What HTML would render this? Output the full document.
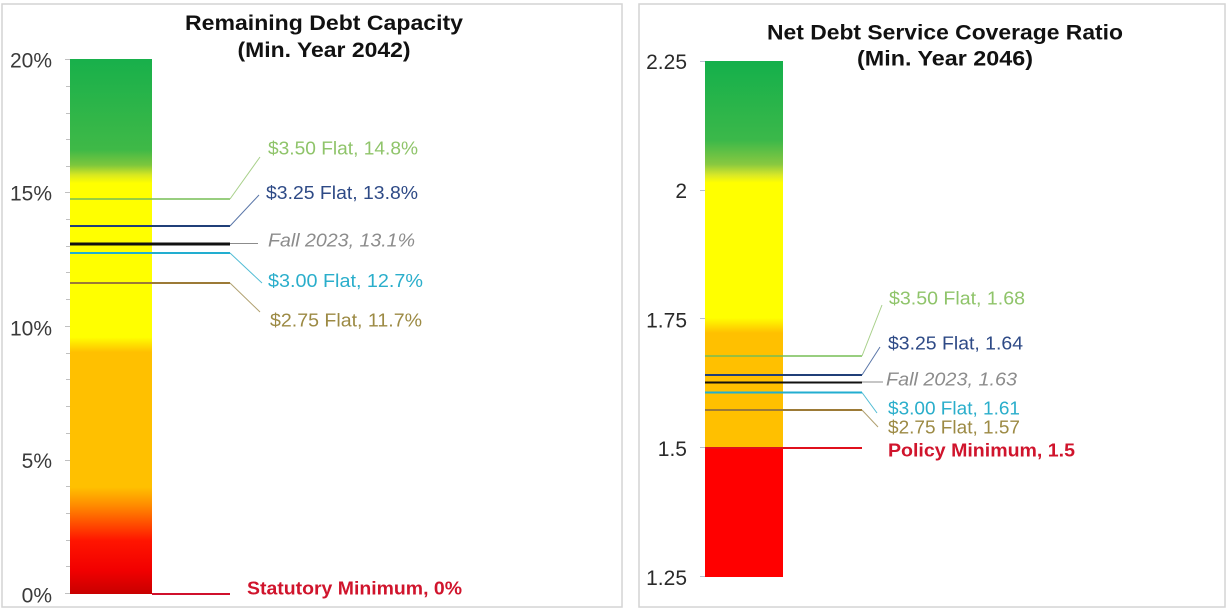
<!DOCTYPE html>
<html>
<head>
<meta charset="utf-8">
<style>
  html, body { margin:0; padding:0; background:#ffffff; }
  body { width:1228px; height:613px; overflow:hidden; }
  svg { display:block; font-family:"Liberation Sans", Arial, sans-serif; }
</style>
</head>
<body>
<svg width="1228" height="613" viewBox="0 0 1228 613" xmlns="http://www.w3.org/2000/svg">
  <defs>
    <linearGradient id="gL" x1="0" y1="0" x2="0" y2="1">
      <stop offset="0" stop-color="#18b04b"/>
      <stop offset="0.17" stop-color="#3fb947"/>
      <stop offset="0.198" stop-color="#7cc63d"/>
      <stop offset="0.217" stop-color="#d8e820"/>
      <stop offset="0.232" stop-color="#ffff00"/>
      <stop offset="0.52" stop-color="#ffff00"/>
      <stop offset="0.548" stop-color="#ffc000"/>
      <stop offset="0.80" stop-color="#ffc000"/>
      <stop offset="0.834" stop-color="#ff8c00"/>
      <stop offset="0.90" stop-color="#ff1500"/>
      <stop offset="0.955" stop-color="#f20000"/>
      <stop offset="1" stop-color="#c80000"/>
    </linearGradient>
    <linearGradient id="gR" x1="0" y1="0" x2="0" y2="1">
      <stop offset="0" stop-color="#14b04b"/>
      <stop offset="0.153" stop-color="#3bb84a"/>
      <stop offset="0.2" stop-color="#88c840"/>
      <stop offset="0.221" stop-color="#d8e828"/>
      <stop offset="0.236" stop-color="#ffff00"/>
      <stop offset="0.498" stop-color="#ffff00"/>
      <stop offset="0.527" stop-color="#ffc000"/>
      <stop offset="0.749" stop-color="#ffc000"/>
      <stop offset="0.7495" stop-color="#ff0000"/>
      <stop offset="1" stop-color="#ff0000"/>
    </linearGradient>
  </defs>

  <!-- panel frames -->
  <rect x="2" y="4" width="620" height="603" fill="#ffffff" stroke="#d4d4d4" stroke-width="1.5"/>
  <rect x="639" y="4" width="586" height="603" fill="#ffffff" stroke="#d4d4d4" stroke-width="1.5"/>

  <!-- ========== LEFT CHART ========== -->
  <text x="324" y="30" text-anchor="middle" font-size="21" font-weight="bold" fill="#111" textLength="278" lengthAdjust="spacingAndGlyphs">Remaining Debt Capacity</text>
  <text x="324" y="57" text-anchor="middle" font-size="21" font-weight="bold" fill="#111" textLength="173" lengthAdjust="spacingAndGlyphs">(Min. Year 2042)</text>

  <!-- ticks -->
  <g stroke="#c0c0c0" stroke-width="1">
    <line x1="65" y1="59.5" x2="70" y2="59.5"/>
    <line x1="66" y1="86.5" x2="70" y2="86.5"/>
    <line x1="66" y1="113.5" x2="70" y2="113.5"/>
    <line x1="66" y1="139.5" x2="70" y2="139.5"/>
    <line x1="66" y1="166.5" x2="70" y2="166.5"/>
    <line x1="65" y1="192.5" x2="70" y2="192.5"/>
    <line x1="66" y1="219.5" x2="70" y2="219.5"/>
    <line x1="66" y1="246.5" x2="70" y2="246.5"/>
    <line x1="66" y1="272.5" x2="70" y2="272.5"/>
    <line x1="66" y1="299.5" x2="70" y2="299.5"/>
    <line x1="65" y1="326.5" x2="70" y2="326.5"/>
    <line x1="66" y1="353.5" x2="70" y2="353.5"/>
    <line x1="66" y1="379.5" x2="70" y2="379.5"/>
    <line x1="66" y1="406.5" x2="70" y2="406.5"/>
    <line x1="66" y1="433.5" x2="70" y2="433.5"/>
    <line x1="65" y1="460.5" x2="70" y2="460.5"/>
    <line x1="66" y1="486.5" x2="70" y2="486.5"/>
    <line x1="66" y1="513.5" x2="70" y2="513.5"/>
    <line x1="66" y1="540.5" x2="70" y2="540.5"/>
    <line x1="66" y1="566.5" x2="70" y2="566.5"/>
    <line x1="65" y1="593.5" x2="70" y2="593.5"/>
  </g>
  <g font-size="21" fill="#3a3a3a" text-anchor="end">
    <text x="52" y="67.5">20%</text>
    <text x="52" y="200.5">15%</text>
    <text x="52" y="335.5">10%</text>
    <text x="52" y="468">5%</text>
    <text x="52" y="602.5">0%</text>
  </g>

  <!-- bar -->
  <rect x="70" y="59" width="82" height="535" fill="url(#gL)"/>

  <!-- lines -->
  <line x1="70" y1="199" x2="230" y2="199" stroke="#76bd55" stroke-width="1.5"/>
  <line x1="230" y1="199" x2="260" y2="157" stroke="#a8d08a" stroke-width="1"/>

  <line x1="70" y1="226" x2="230" y2="226" stroke="#203f78" stroke-width="2"/>
  <line x1="230" y1="226" x2="259" y2="195" stroke="#5a76a8" stroke-width="1"/>

  <line x1="70" y1="244" x2="230" y2="244" stroke="#111111" stroke-width="3"/>
  <line x1="230" y1="243.5" x2="258" y2="243.5" stroke="#8c8c8c" stroke-width="1"/>

  <line x1="70" y1="253" x2="230" y2="253" stroke="#22aed0" stroke-width="2"/>
  <line x1="230" y1="253" x2="262" y2="283" stroke="#50bcd4" stroke-width="1"/>

  <line x1="70" y1="283" x2="230" y2="283" stroke="#9c7a36" stroke-width="2"/>
  <line x1="230" y1="283" x2="260" y2="312" stroke="#b0a070" stroke-width="1"/>

  <line x1="152" y1="594" x2="230" y2="594" stroke="#d0102c" stroke-width="2"/>

  <!-- labels -->
  <g font-size="18">
    <text x="268" y="154.5" fill="#8fc46a" textLength="150" lengthAdjust="spacingAndGlyphs">$3.50 Flat, 14.8%</text>
    <text x="266" y="199" fill="#2e4a86" textLength="152" lengthAdjust="spacingAndGlyphs">$3.25 Flat, 13.8%</text>
    <text x="268" y="246.5" fill="#8c8c8c" font-style="italic" textLength="147" lengthAdjust="spacingAndGlyphs">Fall 2023, 13.1%</text>
    <text x="268" y="287" fill="#2aaecb" textLength="155" lengthAdjust="spacingAndGlyphs">$3.00 Flat, 12.7%</text>
    <text x="270" y="326.5" fill="#9c8a44" textLength="152" lengthAdjust="spacingAndGlyphs">$2.75 Flat, 11.7%</text>
    <text x="247" y="594.5" fill="#d0142c" font-weight="bold" textLength="215" lengthAdjust="spacingAndGlyphs">Statutory Minimum, 0%</text>
  </g>

  <!-- ========== RIGHT CHART ========== -->
  <text x="945" y="39.5" text-anchor="middle" font-size="21" font-weight="bold" fill="#111" textLength="356" lengthAdjust="spacingAndGlyphs">Net Debt Service Coverage Ratio</text>
  <text x="945" y="65.5" text-anchor="middle" font-size="21" font-weight="bold" fill="#111" textLength="176" lengthAdjust="spacingAndGlyphs">(Min. Year 2046)</text>

  <g stroke="#b8c0d0" stroke-width="1">
    <line x1="700" y1="61.5" x2="705" y2="61.5"/>
    <line x1="700" y1="190.5" x2="705" y2="190.5"/>
    <line x1="700" y1="318.5" x2="705" y2="318.5"/>
    <line x1="700" y1="447.5" x2="705" y2="447.5"/>
    <line x1="700" y1="576.5" x2="705" y2="576.5"/>
  </g>
  <g font-size="21" fill="#2a2a2a" text-anchor="end">
    <text x="687" y="69">2.25</text>
    <text x="687" y="198">2</text>
    <text x="687" y="327.5">1.75</text>
    <text x="687" y="456">1.5</text>
    <text x="687" y="585">1.25</text>
  </g>

  <rect x="705" y="61" width="78" height="516" fill="url(#gR)"/>

  <line x1="705" y1="356" x2="862" y2="356" stroke="#76bd55" stroke-width="1.5"/>
  <line x1="862" y1="356" x2="882" y2="305" stroke="#a8d08a" stroke-width="1"/>

  <line x1="705" y1="375" x2="862" y2="375" stroke="#203f78" stroke-width="2"/>
  <line x1="862" y1="375" x2="880" y2="347" stroke="#5a76a8" stroke-width="1"/>

  <line x1="705" y1="382.5" x2="862" y2="382.5" stroke="#111111" stroke-width="2"/>
  <line x1="862" y1="382" x2="883" y2="382" stroke="#8c8c8c" stroke-width="1"/>

  <line x1="705" y1="392.5" x2="862" y2="392.5" stroke="#22aed0" stroke-width="2"/>
  <line x1="862" y1="392.5" x2="877" y2="413" stroke="#50bcd4" stroke-width="1"/>

  <line x1="705" y1="410" x2="862" y2="410" stroke="#9c7a36" stroke-width="2"/>
  <line x1="862" y1="410" x2="878" y2="427" stroke="#b0a070" stroke-width="1"/>

  <line x1="705" y1="448" x2="862" y2="448" stroke="#e0101c" stroke-width="2"/>

  <g font-size="18">
    <text x="889" y="304.5" fill="#8fc46a" textLength="136" lengthAdjust="spacingAndGlyphs">$3.50 Flat, 1.68</text>
    <text x="888" y="349.5" fill="#2e4a86" textLength="135" lengthAdjust="spacingAndGlyphs">$3.25 Flat, 1.64</text>
    <text x="886" y="385.5" fill="#8c8c8c" font-style="italic" textLength="131" lengthAdjust="spacingAndGlyphs">Fall 2023, 1.63</text>
    <text x="888" y="414.5" fill="#2aaecb" textLength="132" lengthAdjust="spacingAndGlyphs">$3.00 Flat, 1.61</text>
    <text x="888" y="433.5" fill="#9c8a44" textLength="132" lengthAdjust="spacingAndGlyphs">$2.75 Flat, 1.57</text>
    <text x="888" y="456.5" fill="#d0142c" font-weight="bold" textLength="187" lengthAdjust="spacingAndGlyphs">Policy Minimum, 1.5</text>
  </g>
</svg>
</body>
</html>
